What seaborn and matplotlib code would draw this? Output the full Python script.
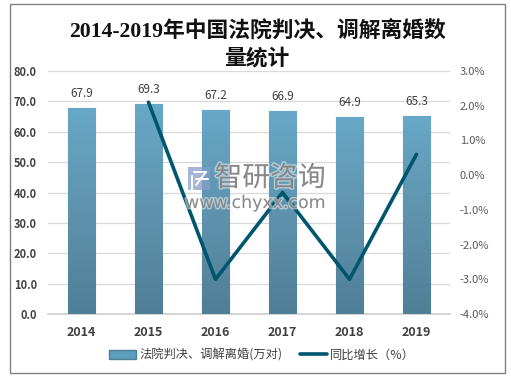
import numpy as np
import pandas as pd
import seaborn as sns
import matplotlib.pyplot as plt
import matplotlib.patheffects as pe
from matplotlib.colors import LinearSegmentedColormap
from matplotlib.lines import Line2D
from matplotlib.patches import Patch, Rectangle

years = ['2014', '2015', '2016', '2017', '2018', '2019']
cases = [67.9, 69.3, 67.2, 66.9, 64.9, 65.3]
growth = [np.nan, 2.1, -3.0, -0.5, -3.0, 0.6]
left_ticks = [0, 10, 20, 30, 40, 50, 60, 70, 80]
right_ticks = [-4, -3, -2, -1, 0, 1, 2, 3]

sns.set_theme(style='white')
plt.rcParams['font.family'] = ['Noto Sans CJK SC', 'DejaVu Sans']
plt.rcParams['axes.unicode_minus'] = False

W, H = 511, 380
fig = plt.figure(figsize=(W / 100, H / 100), dpi=100)
ax = fig.add_axes([48 / W, 1 - 314 / H, 402 / W, 243 / H])

df = pd.DataFrame({'year': years, 'cases': cases})
sns.barplot(data=df, x='year', y='cases', width=0.41, color='#5f9dbc', ax=ax, zorder=3)
ax.set_yticks(left_ticks)
ax.set_yticklabels([f'{v:.1f}' for v in left_ticks], fontsize=8, fontweight='bold', color='#404040')
ax.set_xticks(range(6))
ax.set_xticklabels(years, fontsize=9, fontweight='bold', color='#404040')
ax.set_xlabel('')
ax.set_ylabel('')
ax.grid(axis='y', color='#d9d9d9', lw=0.9, zorder=0)
ax.set_axisbelow(True)
for s in ['top', 'left', 'right']:
    ax.spines[s].set_visible(False)
ax.spines['bottom'].set_color('#d0d0d0')

# gradient fill on the bars
cmap = LinearSegmentedColormap.from_list('bar', ['#4f7f97', '#5f93ad', '#68a8c8'])
grad = np.linspace(0, 1, 256).reshape(-1, 1)
for p in list(ax.patches):
    x0, w, h = p.get_x(), p.get_width(), p.get_height()
    p.set_edgecolor('#3f6f88')
    p.set_linewidth(0.8)
    im = ax.imshow(grad, cmap=cmap, origin='lower', aspect='auto',
                   extent=[x0, x0 + w, 0, h], zorder=3.5)
    im.set_clip_path(p)
ax.set_xlim(-0.5, 5.5)
ax.set_ylim(0, 80)

for i, v in enumerate(cases):
    ax.text(i, v + 2.6, f'{v:.1f}', ha='center', va='bottom', fontsize=8.5, color='#404040', zorder=6)

ax2 = ax.twinx()
sns.lineplot(x=np.arange(6), y=growth, color='#00566e', lw=2.6, ax=ax2, zorder=5)
ax2.set_ylim(-4, 3)
ax2.set_yticks(right_ticks)
ax2.set_yticklabels([f'{v:.1f}%' for v in right_ticks], fontsize=8, color='#595959')
ax2.grid(False)
ax2.set_ylabel('')
for s in ax2.spines.values():
    s.set_visible(False)

# twinx turns the left ticks back on, so switch them off here
ax.tick_params(axis='x', bottom=False, length=0, pad=9)
ax.tick_params(axis='y', left=False, length=0, pad=8)
ax2.tick_params(axis='y', right=False, length=0, pad=7)

title_font = ['Liberation Serif', 'Noto Sans CJK SC']
fig.text(257 / W, 1 - 32 / H, '2014-2019年中国法院判决、调解离婚数',
         ha='center', va='center', fontsize=15.7, fontweight='bold', color='#111111', family=title_font)
fig.text(257 / W, 1 - 59 / H, '量统计',
         ha='center', va='center', fontsize=15.7, fontweight='bold', color='#111111', family=title_font)

# watermark
halo = [pe.withStroke(linewidth=2, foreground='white', alpha=0.5)]
fig.text(270 / W, 1 - 178 / H, '智研咨询', ha='center', va='center', fontsize=20,
         color='#808080', alpha=0.9, zorder=10, path_effects=halo)
fig.text(255.5 / W, 1 - 203 / H, 'www.chyxx.com', ha='center', va='center', fontsize=12.5,
         color='#808080', alpha=0.9, zorder=10, fontfamily='DejaVu Sans', path_effects=halo)
fig.add_artist(Rectangle((188 / W, 1 - 190 / H), 22 / W, 23 / H, transform=fig.transFigure,
                         fc='#8a9cc9', ec='none', alpha=0.75, zorder=10))
# white cuts in the logo
for xs, ys in [([194, 206], [172, 172]), ([206, 196], [172, 185]), ([196, 208], [179, 179]), ([192, 192], [176, 190])]:
    fig.add_artist(Line2D([x / W for x in xs], [1 - y / H for y in ys], transform=fig.transFigure,
                          color='white', lw=1.4, zorder=11))

handles = [Patch(fc='#5f9dbc', ec='#4f7f97'), Line2D([], [], color='#00566e', lw=2.6)]
labels = ['法院判决、调解离婚(万对)', '同比增长（%）']
fig.legend(handles, labels, loc='center', bbox_to_anchor=(262 / W, 1 - 355 / H), ncol=2,
           frameon=False, fontsize=8.8, labelcolor='#404040', handlelength=2.2,
           handleheight=0.7, handletextpad=0.3, columnspacing=1.4)

# chart border
fig.add_artist(Rectangle((9.5 / W, 1 - 373 / H), 495 / W, 369 / H, transform=fig.transFigure,
                         fc='none', ec='#808080', lw=1))

fig.savefig('out.png', dpi=100)
